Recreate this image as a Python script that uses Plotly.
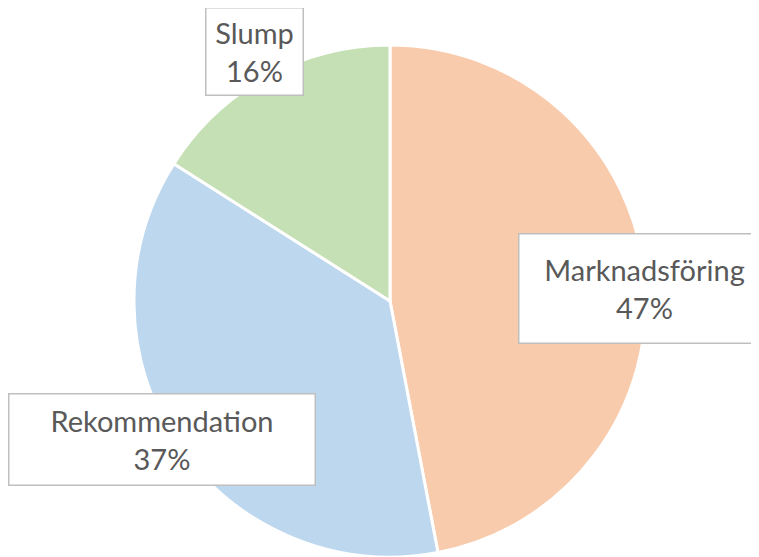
import plotly.graph_objects as go

labels = ["Marknadsföring", "Rekommendation", "Slump"]
values = [47, 37, 16]
colors = ["#F8CBAD", "#BDD7EE", "#C5E0B4"]

W, H = 759, 557
OFF = 8  # page body margin offset
total = sum(values)
pct = [f"{round(v / total * 100)}%" for v in values]

fig = go.Figure(go.Pie(
    labels=labels,
    values=values,
    sort=False,
    direction="clockwise",
    rotation=0,
    marker=dict(colors=colors, line=dict(color="white", width=3)),
    textinfo="none",
    hoverinfo="label+percent",
    showlegend=False,
    domain=dict(x=[126 / W, 638 / W], y=[1 - 549 / H, 1 - 37 / H]),
))

# label box placement (px in reference) and box sizes in px
box_pos = [(644, 288, 250, 108), (162, 440, 305, 90), (254, 52, 96, 86)]
font = dict(family="Lato, 'Open Sans', sans-serif", size=29, color="#595959")
for lab, p, (cx, cy, bw, bh) in zip(labels, pct, box_pos):
    fig.add_annotation(
        x=(cx - OFF) / W, y=1 - (cy - OFF) / H, xref="paper", yref="paper",
        xanchor="center", yanchor="middle",
        text=f"{lab}<br>{p}", showarrow=False,
        font=font, align="center",
        bgcolor="white", bordercolor="#BFBFBF", borderwidth=1.5, borderpad=0,
        width=bw, height=bh, valign="middle",
    )

fig.update_layout(
    width=W, height=H,
    margin=dict(l=0, r=0, t=0, b=0),
    paper_bgcolor="white", plot_bgcolor="white",
)
fig.write_html("out.html")
